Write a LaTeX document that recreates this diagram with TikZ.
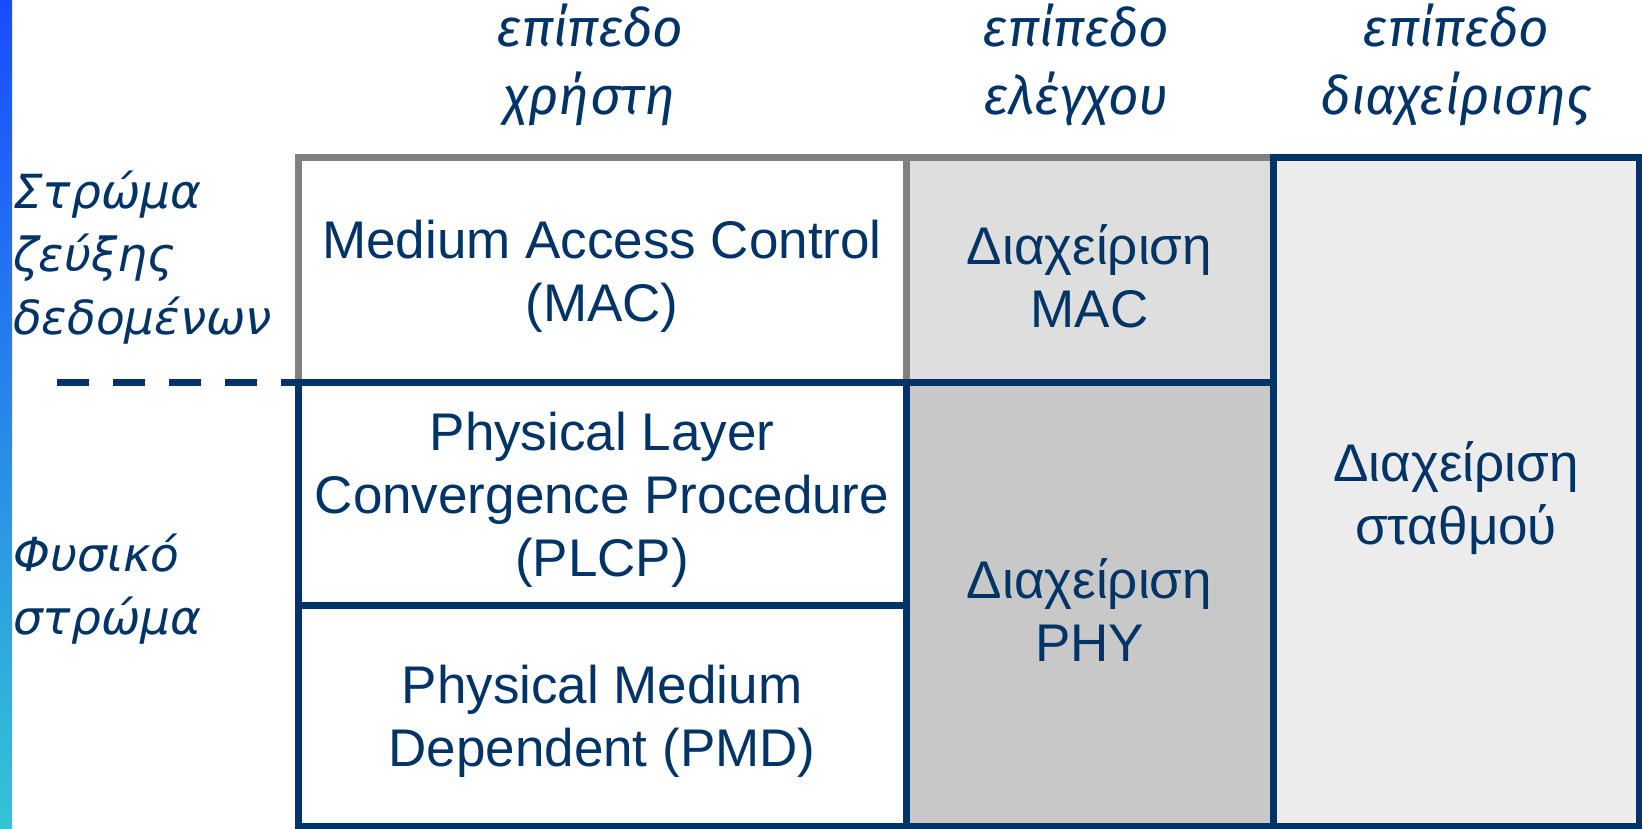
\documentclass[tikz,border=0pt]{standalone}
\usepackage{fontspec}
\setmainfont{Liberation Sans}
\newfontfamily\hdrfont{Fira Sans}
\newfontfamily\lblfont{DejaVu Sans}
\definecolor{navy}{HTML}{003366}
\definecolor{gridgray}{HTML}{808080}
\definecolor{fillmac}{HTML}{DEDEDE}
\definecolor{fillphy}{HTML}{C8C8C8}
\definecolor{fillsta}{HTML}{ECECEC}
\definecolor{barTop}{HTML}{1A4CFF}
\definecolor{barBot}{HTML}{33C4D4}
\begin{document}
\begin{tikzpicture}[x=1pt,y=-1pt,
  cell/.style={inner sep=0pt, outer sep=0pt},
  celltext/.style={inner sep=0pt, align=center, text=navy, yshift=-6pt,
    font=\fontsize{53}{63}\selectfont},
  hdr/.style={inner sep=0pt, align=center, text=navy,
    font=\hdrfont\itshape\fontsize{53}{68}\selectfont},
  lbl/.style={inner sep=0pt, align=left, anchor=west, text=navy,
    font=\lblfont\itshape\fontsize{47}{63}\selectfont},
  navyline/.style={draw=navy, line width=7pt},
  grayline/.style={draw=gridgray, line width=7pt}]
\useasboundingbox (0,0) rectangle (1642,829);
\fill[white] (0,0) rectangle (1642,829);
\shade[top color=barTop, bottom color=barBot] (0,0) rectangle (12,829);

% cells
\node[cell, fill=white, minimum width=608pt, minimum height=224pt] (mac) at (602,270) {};
\node[cell, fill=fillmac, minimum width=367pt, minimum height=224pt] (ctrlmac) at (1089.5,270) {};
\node[cell, fill=white, minimum width=608pt, minimum height=223pt] (plcp) at (602,493.5) {};
\node[cell, fill=white, minimum width=608pt, minimum height=221pt] (pmd) at (602,715.5) {};
\node[cell, fill=fillphy, minimum width=367pt, minimum height=444pt] (ctrlphy) at (1089.5,604) {};
\node[cell, fill=fillsta, minimum width=366pt, minimum height=668pt] (station) at (1456,492) {};

% cell texts
\node[celltext] (tmac) at (mac.center) {Medium Access Control\\(MAC)};
\node[celltext] (tctrlmac) at (ctrlmac.center) {Διαχείριση\\MAC};
\node[celltext] (tplcp) at (plcp.center) {Physical Layer\\Convergence Procedure\\(PLCP)};
\node[celltext] (tpmd) at (pmd.center) {Physical Medium\\Dependent (PMD)};
\node[celltext] (tctrlphy) at (ctrlphy.center) {Διαχείριση\\PHY};
\node[celltext] (tstation) at (station.center) {Διαχείριση\\σταθμού};

% headers
\node[hdr] (huser) at (590,65) {επίπεδο\\χρήστη};
\node[hdr] (hctrl) at (1076,65) {επίπεδο\\ελέγχου};
\node[hdr] (hmgmt) at (1456,65) {επίπεδο\\διαχείρισης};

% left labels
\node[lbl] (ldl) at (13,258) {Στρώμα\\ζεύξης\\δεδομένων};
\node[lbl] (lphy) at (13,589) {Φυσικό\\στρώμα};

% gray borders
\draw[grayline] (mac.south west) -- (mac.north west) -- (ctrlmac.north east);
\draw[grayline] (mac.north east) -- (mac.south east);

% navy borders
\draw[navyline, line join=miter] (station.north west) -- (station.north east)
  -- (station.south east) -- (pmd.south west) -- (plcp.north west) -- (ctrlphy.north east);
\draw[navyline, line cap=rect] (station.north west) -- (station.south west);
\draw[navyline] (plcp.north east) -- (pmd.south east);
\draw[navyline] (pmd.north west) -- (pmd.north east);

% dashed separator
\coordinate (dashstart) at (57,382);
\draw[navyline, dash pattern=on 32pt off 24pt] (dashstart) -- (plcp.north west);
\end{tikzpicture}
\end{document}
